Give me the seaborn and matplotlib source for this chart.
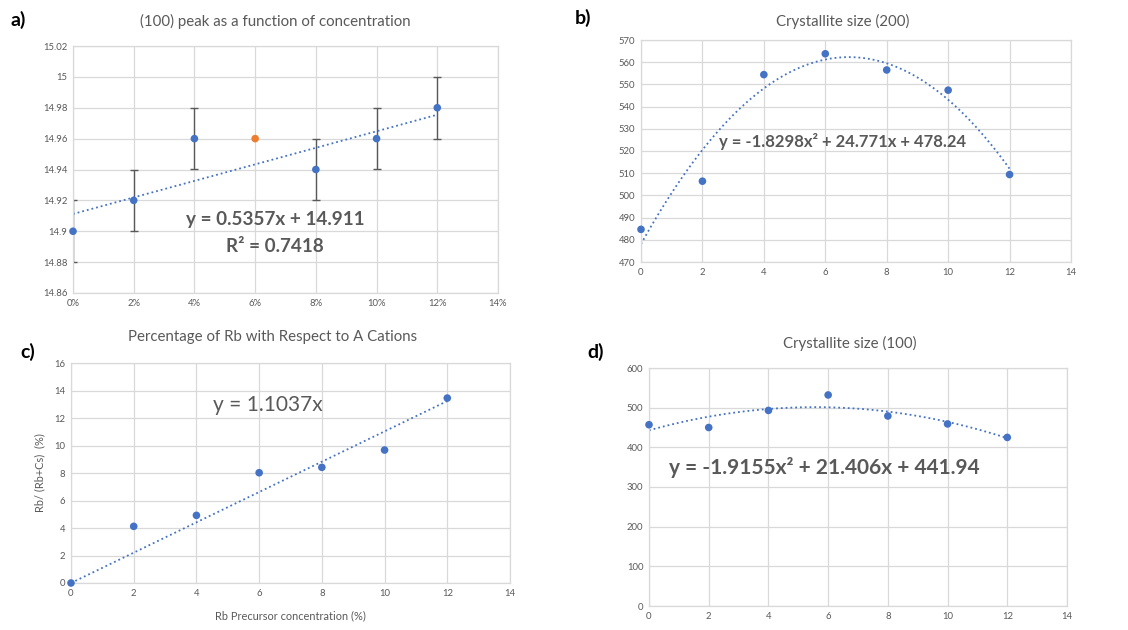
import numpy as np
import pandas as pd
import matplotlib
matplotlib.use("Agg")
import matplotlib.pyplot as plt
import seaborn as sns
from matplotlib.ticker import PercentFormatter, FuncFormatter, MultipleLocator

# ---------------- data ----------------
# a) (100) peak position vs concentration (fraction)
conc_a = [0.00, 0.02, 0.04, 0.08, 0.10, 0.12]
peak_a = [14.90, 14.92, 14.96, 14.94, 14.96, 14.98]
err_a = [0.02, 0.02, 0.02, 0.02, 0.02, 0.02]
conc_a_extra = [0.06]
peak_a_extra = [14.96]

# b), c), d) share the precursor concentration axis
conc = [0, 2, 4, 6, 8, 10, 12]
size200 = [484.7, 506.4, 554.4, 563.8, 556.5, 547.4, 509.4]
rb_pct = [0.0, 4.12, 4.92, 8.02, 8.41, 9.67, 13.45]
size100 = [457, 450, 493, 532, 479, 459, 425]

titles = ["(100) peak as a function of concentration", "Crystallite size (200)",
          "Percentage of Rb with Respect to A Cations", "Crystallite size (100)"]
eq_a = ["y = 0.5357x + 14.911", "R² = 0.7418"]
eq_b = "y = -1.8298x² + 24.771x + 478.24"
eq_c = "y = 1.1037x"
eq_d = "y = -1.9155x² + 21.406x + 441.94"

# ---------------- style ----------------
sns.set_theme(style="white")
plt.rcParams['font.family'] = ['Lato', 'DejaVu Sans']
BLUE = "#4472C4"
ORANGE = "#ED7D31"
GRAY = "#595959"
GRID = "#D9D9D9"
W, H = 1128, 630

fig = plt.figure(figsize=(W / 100, H / 100), dpi=100)
fig.patch.set_facecolor("white")


def box(l, t, r, b):
    return [l / W, 1 - b / H, (r - l) / W, (b - t) / H]


def ftext(x, y, s, **kw):
    fig.text(x / W, 1 - y / H, s, **kw)


def style_ax(ax):
    ax.grid(True, color=GRID, linewidth=0.9)
    ax.set_axisbelow(True)
    for sp in ax.spines.values():
        sp.set_color(GRID)
        sp.set_linewidth(0.9)
    ax.tick_params(length=0, labelsize=6.8, labelcolor=GRAY, pad=4)
    ax.set_xlabel("")
    ax.set_ylabel("")


gfmt = FuncFormatter(lambda v, p: format(round(v, 2), "g"))
skw = dict(color=BLUE, s=30, edgecolor="none", zorder=4, clip_on=False)
rkw = dict(color=BLUE, linestyle=":", linewidth=1.3)

# ---- a ----
axa = fig.add_axes(box(73, 46, 498, 293))
dfa = pd.DataFrame({"x": conc_a, "y": peak_a})
axa.errorbar(conc_a, peak_a, yerr=err_a, fmt="none", ecolor=GRAY, elinewidth=1.0,
             capsize=3, capthick=1.0, zorder=2)
sns.regplot(data=dfa, x="x", y="y", ax=axa, scatter=False, ci=None, line_kws=rkw)
sns.scatterplot(data=dfa, x="x", y="y", ax=axa, **skw)
sns.scatterplot(x=conc_a_extra, y=peak_a_extra, ax=axa, color=ORANGE, s=30,
                edgecolor="none", zorder=4)
axa.set_xlim(0, 0.14)
axa.set_ylim(14.86, 15.02)
axa.xaxis.set_major_locator(MultipleLocator(0.02))
axa.yaxis.set_major_locator(MultipleLocator(0.02))
axa.xaxis.set_major_formatter(PercentFormatter(xmax=1, decimals=0))
axa.yaxis.set_major_formatter(gfmt)
style_ax(axa)

# ---- b ----
axb = fig.add_axes(box(641, 40, 1071, 262))
dfb = pd.DataFrame({"x": conc, "y": size200})
sns.regplot(data=dfb, x="x", y="y", ax=axb, order=2, scatter=False, ci=None, line_kws=rkw)
sns.scatterplot(data=dfb, x="x", y="y", ax=axb, **skw)
axb.set_xlim(0, 14)
axb.set_ylim(470, 570)
axb.xaxis.set_major_locator(MultipleLocator(2))
axb.yaxis.set_major_locator(MultipleLocator(10))
style_ax(axb)

# ---- c ----
axc = fig.add_axes(box(71, 363, 510, 583))
dfc = pd.DataFrame({"x": conc, "y": rb_pct})
xc = np.asarray(conc, float)
yc = np.asarray(rb_pct, float)
slope_c = np.sum(xc * yc) / np.sum(xc * xc)
xs = np.array([xc.min(), xc.max()])
sns.lineplot(x=xs, y=slope_c * xs, ax=axc, **rkw)
sns.scatterplot(data=dfc, x="x", y="y", ax=axc, **skw)
axc.set_xlim(0, 14)
axc.set_ylim(0, 16)
axc.xaxis.set_major_locator(MultipleLocator(2))
axc.yaxis.set_major_locator(MultipleLocator(2))
style_ax(axc)

# ---- d ----
axd = fig.add_axes(box(649, 368, 1067, 606))
dfd = pd.DataFrame({"x": conc, "y": size100})
sns.regplot(data=dfd, x="x", y="y", ax=axd, order=2, scatter=False, ci=None, line_kws=rkw)
sns.scatterplot(data=dfd, x="x", y="y", ax=axd, **skw)
axd.set_xlim(0, 14)
axd.set_ylim(0, 600)
axd.xaxis.set_major_locator(MultipleLocator(2))
axd.yaxis.set_major_locator(MultipleLocator(100))
style_ax(axd)

# ---------------- texts ----------------
tkw = dict(color=GRAY, fontsize=10.8, ha="center", va="center")
ftext(275, 21, titles[0], **tkw)
ftext(843, 21, titles[1], **tkw)
ftext(273, 337, titles[2], **tkw)
ftext(850, 343, titles[3], **tkw)

lkw = dict(color="black", fontsize=14, fontweight="bold", ha="center", va="center")
ftext(18, 20, "a)", **lkw)
ftext(583, 18, "b)", **lkw)
ftext(28, 352, "c)", **lkw)
ftext(596, 352, "d)", **lkw)

ekw = dict(color=GRAY, fontweight="bold", ha="center", va="center")
ftext(275, 220, eq_a[0], fontsize=13.6, **ekw)
ftext(275, 247, eq_a[1], fontsize=13.6, **ekw)
ftext(843, 141, eq_b, fontsize=12, **ekw)
ftext(824, 468, eq_d, fontsize=15, **ekw)
ftext(268, 405, eq_c, color=GRAY, fontsize=15, ha="center", va="center")

ftext(40, 473, "Rb/ (Rb+Cs)  (%)", color=GRAY, fontsize=7.9, rotation=90, ha="center", va="center")
ftext(290, 616, "Rb Precursor concentration (%)", color=GRAY, fontsize=7.9, ha="center", va="center")

fig.savefig("out.png", dpi=100, facecolor="white")
